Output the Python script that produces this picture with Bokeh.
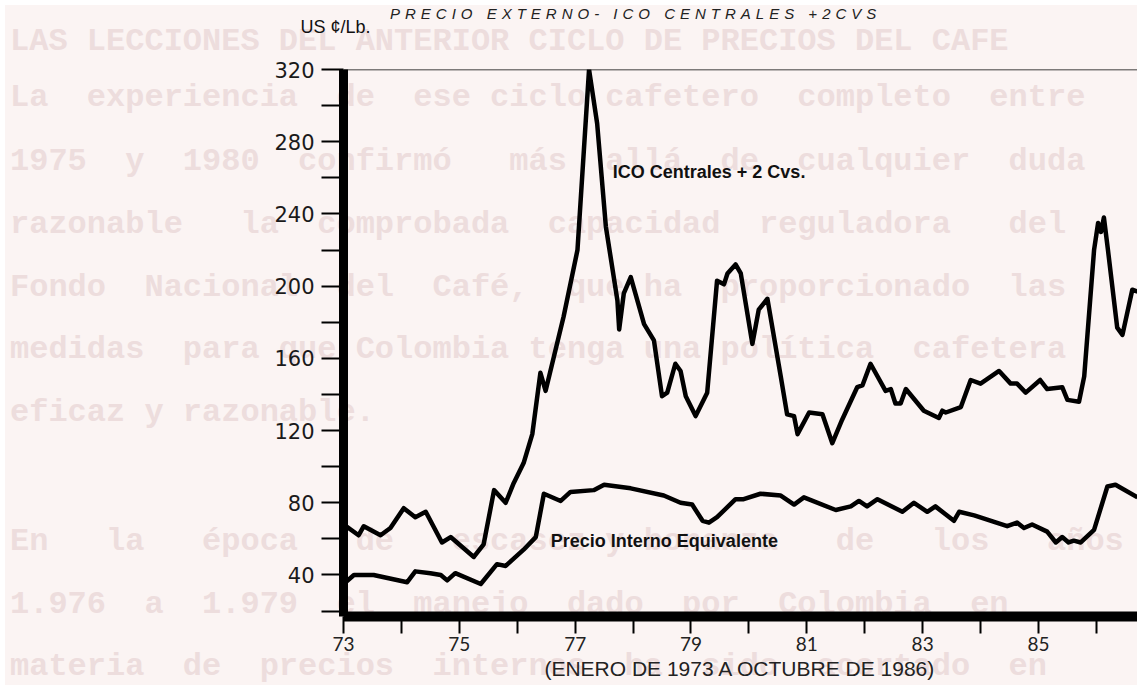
from bokeh.plotting import figure
from bokeh.models import FixedTicker, Label, Span, Div
from bokeh.layouts import column
from bokeh.embed import file_html
from bokeh.resources import INLINE

# ---- data ----
ico_year = [73.0, 73.26, 73.35, 73.64, 73.81, 74.04, 74.24, 74.42, 74.70, 74.85, 75.25, 75.42,
            75.60, 75.80, 75.94, 76.11, 76.26, 76.40, 76.49, 76.80, 77.04, 77.24, 77.38, 77.53,
            77.73, 77.76, 77.84, 77.96, 78.19, 78.36, 78.50, 78.59, 78.73, 78.82, 78.91, 79.08,
            79.28, 79.45, 79.57, 79.63, 79.77, 79.86, 80.06, 80.17, 80.32, 80.55, 80.66, 80.78,
            80.84, 81.04, 81.27, 81.44, 81.61, 81.87, 81.96, 82.10, 82.36, 82.45, 82.53, 82.62,
            82.71, 83.02, 83.28, 83.34, 83.40, 83.66, 83.83, 84.00, 84.32, 84.52, 84.63, 84.78,
            85.03, 85.15, 85.41, 85.50, 85.70, 85.79, 85.96, 86.03, 86.08, 86.13, 86.20, 86.36,
            86.45, 86.62, 86.71]
ico_value = [68, 62, 67, 62, 66, 77, 72, 75, 58, 61, 50, 57,
             87, 80, 91, 102, 118, 152, 142, 183, 220, 320, 290, 233,
             192, 176, 196, 205, 179, 170, 139, 141, 157, 153, 139, 128,
             141, 203, 201, 207, 212, 207, 168, 187, 193, 150, 129, 128,
             118, 130, 129, 113, 126, 144, 145, 157, 142, 143, 135, 135,
             143, 131, 127, 131, 130, 133, 148, 146, 153, 146, 146, 141,
             148, 143, 144, 137, 136, 150, 220, 235, 230, 238, 220, 177,
             173, 198, 197]

int_year = [73.0, 73.18, 73.52, 74.10, 74.24, 74.50, 74.68, 74.79, 74.93, 75.37, 75.65, 75.80,
            76.11, 76.32, 76.46, 76.75, 76.92, 77.32, 77.50, 77.96, 78.53, 78.82, 79.02, 79.20,
            79.31, 79.45, 79.77, 79.91, 80.20, 80.55, 80.78, 80.95, 81.50, 81.76, 81.90, 82.04,
            82.22, 82.65, 82.85, 83.08, 83.22, 83.54, 83.63, 83.89, 84.46, 84.63, 84.75, 84.89,
            85.15, 85.30, 85.41, 85.52, 85.61, 85.73, 85.96, 86.19, 86.33, 86.71]
int_value = [35, 40, 40, 36, 42, 41, 40, 37, 41, 35, 46, 45,
             54, 61, 85, 81, 86, 87, 90, 88, 84, 80, 79, 70,
             69, 72, 82, 82, 85, 84, 79, 83, 76, 78, 81, 78,
             82, 75, 80, 75, 78, 70, 75, 73, 67, 69, 66, 68,
             64, 58, 61, 58, 59, 58, 65, 89, 90, 83]

x_major = [73, 75, 77, 79, 81, 83, 85]
x_minor = [74, 76, 78, 80, 82, 84, 86]
y_major = [40, 80, 120, 160, 200, 240, 280, 320]
y_minor = [20, 60, 100, 140, 180, 220, 260, 300]

title_text = "PRECIO EXTERNO- ICO CENTRALES +2CVS"
unit_text = "US ¢/Lb."
xlabel_text = "(ENERO DE 1973 A OCTUBRE DE 1986)"
ico_label = "ICO Centrales + 2 Cvs."
int_label = "Precio Interno Equivalente"

# faint typewritten text showing through the page
background_lines = [
    "LAS LECCIONES DEL ANTERIOR CICLO DE PRECIOS DEL CAFE",
    "La  experiencia  de  ese ciclo cafetero  completo  entre",
    "1975  y  1980  confirmó   más  allá  de  cualquier  duda",
    "razonable   la  comprobada  capacidad  reguladora   del",
    "Fondo  Nacional  del  Café,  que ha  proporcionado  las",
    "medidas  para que Colombia tenga una política  cafetera",
    "eficaz y razonable.",
    "En   la   época   de   escasez y bonanza   de   los   años",
    "1.976  a  1.979  el  manejo  dado  por  Colombia  en",
    "materia  de  precios  internos  ha  sido  acertado  en",
]
background_top = [25, 81, 145, 208, 271, 333, 396, 525, 588, 650]

BG = "#fbf4f3"

html = "".join(
    f'<div style="position:absolute;left:5px;top:{t}px;white-space:pre;">{s}</div>'
    for s, t in zip(background_lines, background_top))
html += ('<div style="position:absolute;left:385px;top:0px;white-space:pre;'
         'font-family:\'Liberation Sans\';font-style:italic;font-weight:normal;'
         'font-size:15px;line-height:18px;letter-spacing:5px;color:#222222;">'
         f'{title_text}</div>')
bg_div = Div(text=html, width=1137, height=685,
             styles={"position": "absolute", "left": "0px", "top": "0px", "z-index": "-1",
                     "background-color": BG, "font-family": "Liberation Mono",
                     "font-weight": "bold", "font-size": "32px", "line-height": "24px",
                     "color": "#eddddd", "overflow": "hidden"})

p = figure(width=1137, height=685, x_range=(73, 86.71), y_range=(17, 320),
           output_backend="svg", toolbar_location=None,
           min_border_left=343, min_border_right=0, min_border_top=69, min_border_bottom=69)
p.background_fill_alpha = 0
p.border_fill_alpha = 0
p.outline_line_color = None
p.xgrid.visible = False
p.ygrid.visible = False

# unit label above the axis (second, blank line lifts it to the top of the margin)
p.title.text = unit_text + "\n "
p.title.text_font = "Liberation Sans"
p.title.text_font_style = "normal"
p.title.text_font_size = "18px"
p.title.text_color = "#111111"
p.title.align = "left"
p.title.vertical_align = "top"
p.title.offset = -43
p.title.standoff = 22

# axes
p.xaxis.ticker = FixedTicker(ticks=x_major, minor_ticks=x_minor)
p.yaxis.ticker = FixedTicker(ticks=y_major, minor_ticks=y_minor)

p.yaxis.axis_line_width = 9
p.yaxis.axis_line_color = "black"
p.yaxis.major_tick_line_width = 2
p.yaxis.major_tick_line_color = "black"
p.yaxis.major_tick_out = 22
p.yaxis.major_tick_in = 0
p.yaxis.minor_tick_line_width = 2
p.yaxis.minor_tick_line_color = "black"
p.yaxis.minor_tick_out = 22
p.yaxis.minor_tick_in = 0
p.yaxis.major_label_standoff = 7
p.yaxis.major_label_text_font = "DejaVu Sans"
p.yaxis.major_label_text_font_size = "21px"
p.yaxis.major_label_text_color = "#1a1a1a"

p.xaxis.axis_line_width = 10
p.xaxis.axis_line_color = "black"
p.xaxis.major_tick_line_width = 2
p.xaxis.major_tick_line_color = "black"
p.xaxis.major_tick_out = 17
p.xaxis.major_tick_in = 0
p.xaxis.minor_tick_line_width = 2
p.xaxis.minor_tick_line_color = "black"
p.xaxis.minor_tick_out = 17
p.xaxis.minor_tick_in = 0
p.xaxis.major_label_standoff = 3
p.xaxis.major_label_text_font = "Lato"
p.xaxis.major_label_text_font_size = "19px"
p.xaxis.major_label_text_color = "#222222"
p.xaxis.axis_label = xlabel_text
p.xaxis.axis_label_text_font = "Liberation Sans"
p.xaxis.axis_label_text_font_style = "normal"
p.xaxis.axis_label_text_font_size = "21px"
p.xaxis.axis_label_text_color = "#222222"
p.xaxis.axis_label_standoff = 3

p.add_layout(Span(location=320, dimension="width", line_color="black", line_width=1.5))

# series
p.line(ico_year, ico_value, line_width=4.5, line_color="black", line_join="round")
p.line(int_year, int_value, line_width=4.5, line_color="black", line_join="round")

# in-chart labels
p.add_layout(Label(x=77.65, y=263, text=ico_label, text_font="Liberation Sans",
                   text_font_style="bold", text_font_size="18px", text_color="#111111",
                   text_baseline="middle", text_align="left"))
p.add_layout(Label(x=76.58, y=59, text=int_label, text_font="Liberation Sans",
                   text_font_style="bold", text_font_size="18px", text_color="#111111",
                   text_baseline="middle", text_align="left"))

root = column(bg_div, p)
open("out.html", "w").write(file_html(root, INLINE))
